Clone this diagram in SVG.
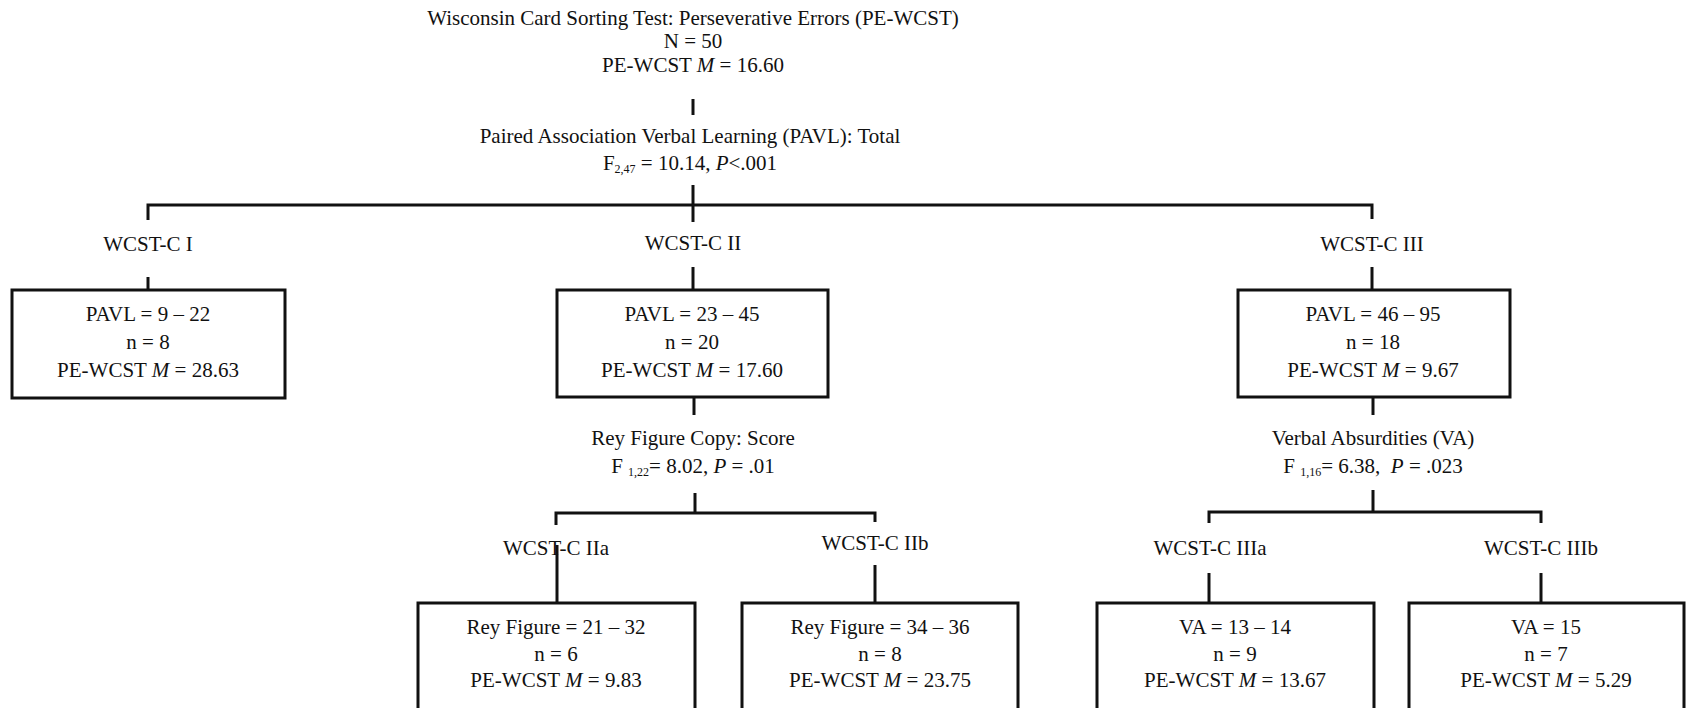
<svg xmlns="http://www.w3.org/2000/svg" width="1691" height="708" viewBox="0 0 1691 708">
<style>
text{font-family:"Liberation Serif","Times New Roman",serif;font-size:21px;fill:#111;text-anchor:middle}
.i{font-style:italic}
.sub{font-size:12px}
.box{fill:none;stroke:#111;stroke-width:3}
.ln{fill:none;stroke:#111;stroke-width:3}
</style>
<rect x="0" y="0" width="1691" height="708" fill="#fff"/>
<g id="connectors">
<path class="ln" d="M693,99 V115"/>
<path class="ln" d="M693,185 V222"/>
<path class="ln" d="M148,220 V205 H1372 V219"/>
<path class="ln" d="M148,277 V290"/>
<path class="ln" d="M693,267 V290"/>
<path class="ln" d="M1372,267 V290"/>
<path class="ln" d="M694,398 V415"/>
<path class="ln" d="M1373,398 V415"/>
<path class="ln" d="M695,493 V513"/>
<path class="ln" d="M556,525 V513 H875 V522"/>
<path class="ln" d="M1373,490 V512"/>
<path class="ln" d="M1209,523 V512 H1541 V523"/>
<path class="ln" d="M557,545 V603"/>
<path class="ln" d="M875,565 V603"/>
<path class="ln" d="M1209,573 V603"/>
<path class="ln" d="M1541,573 V603"/>
</g>
<g id="root">
<text x="693" y="25">Wisconsin Card Sorting Test: Perseverative Errors (PE-WCST)</text>
<text x="693" y="48">N = 50</text>
<text x="693" y="72">PE-WCST <tspan class="i">M</tspan> = 16.60</text>
</g>
<g id="split1">
<text x="690" y="143">Paired Association Verbal Learning (PAVL): Total</text>
<text x="690" y="170">F<tspan class="sub" dy="3">2,47</tspan><tspan dy="-3"> = 10.14, </tspan><tspan class="i">P</tspan>&lt;.001</text>
</g>
<g id="c1">
<text x="148" y="251">WCST-C I</text>
<rect class="box" x="12" y="290" width="273" height="108"/>
<text x="148" y="321">PAVL = 9 – 22</text>
<text x="148" y="349">n = 8</text>
<text x="148" y="377">PE-WCST <tspan class="i">M</tspan> = 28.63</text>
</g>
<g id="c2">
<text x="693" y="250">WCST-C II</text>
<rect class="box" x="557" y="290" width="271" height="107"/>
<text x="692" y="321">PAVL = 23 – 45</text>
<text x="692" y="349">n = 20</text>
<text x="692" y="377">PE-WCST <tspan class="i">M</tspan> = 17.60</text>
</g>
<g id="c3">
<text x="1372" y="251">WCST-C III</text>
<rect class="box" x="1238" y="290" width="272" height="107"/>
<text x="1373" y="321">PAVL = 46 – 95</text>
<text x="1373" y="349">n = 18</text>
<text x="1373" y="377">PE-WCST <tspan class="i">M</tspan> = 9.67</text>
</g>
<g id="split2">
<text x="693" y="445">Rey Figure Copy: Score</text>
<text x="693" y="473">F <tspan class="sub" dy="3">1,22</tspan><tspan dy="-3">= 8.02, </tspan><tspan class="i">P</tspan> = .01</text>
</g>
<g id="split3">
<text x="1373" y="445">Verbal Absurdities (VA)</text>
<text x="1373" y="473">F <tspan class="sub" dy="3">1,16</tspan><tspan dy="-3">= 6.38,&#160; </tspan><tspan class="i">P</tspan> = .023</text>
</g>
<g id="c2a">
<text x="556" y="555">WCST-C IIa</text>
<path class="box" d="M418,712 V603 H695 V712"/>
<text x="556" y="634">Rey Figure = 21 – 32</text>
<text x="556" y="661">n = 6</text>
<text x="556" y="687">PE-WCST <tspan class="i">M</tspan> = 9.83</text>
</g>
<g id="c2b">
<text x="875" y="550">WCST-C IIb</text>
<path class="box" d="M742,712 V603 H1018 V712"/>
<text x="880" y="634">Rey Figure = 34 – 36</text>
<text x="880" y="661">n = 8</text>
<text x="880" y="687">PE-WCST <tspan class="i">M</tspan> = 23.75</text>
</g>
<g id="c3a">
<text x="1210" y="555">WCST-C IIIa</text>
<path class="box" d="M1097,712 V603 H1374 V712"/>
<text x="1235" y="634">VA = 13 – 14</text>
<text x="1235" y="661">n = 9</text>
<text x="1235" y="687">PE-WCST <tspan class="i">M</tspan> = 13.67</text>
</g>
<g id="c3b">
<text x="1541" y="555">WCST-C IIIb</text>
<path class="box" d="M1409,712 V603 H1684 V712"/>
<text x="1546" y="634">VA = 15</text>
<text x="1546" y="661">n = 7</text>
<text x="1546" y="687">PE-WCST <tspan class="i">M</tspan> = 5.29</text>
</g>
</svg>
